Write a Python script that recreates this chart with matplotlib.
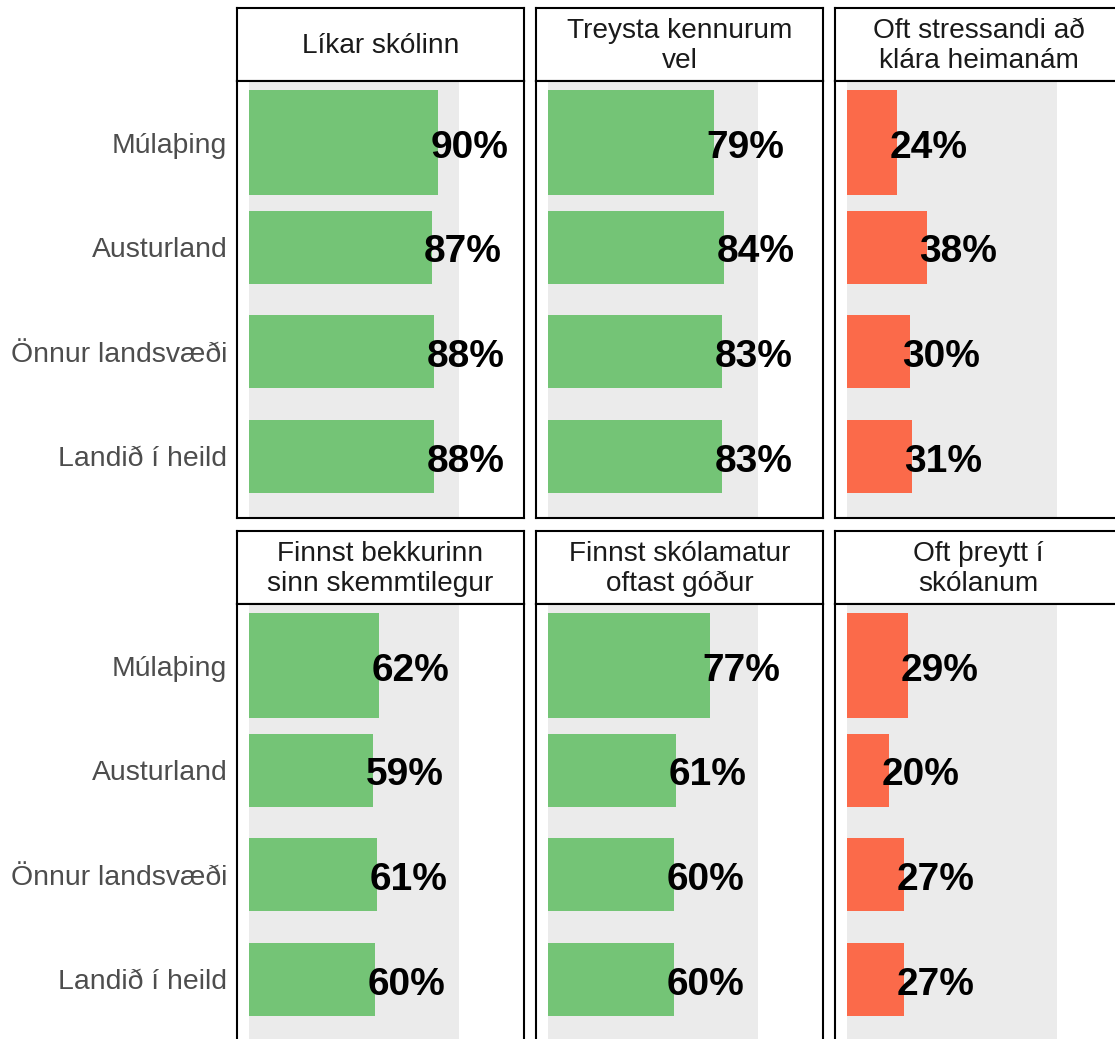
import matplotlib.pyplot as plt

plt.rcParams['font.family'] = ['Liberation Sans', 'DejaVu Sans']

# Gögn
svaedi = ["Múlaþing", "Austurland", "Önnur landsvæði", "Landið í heild"]
titlar = ["Líkar skólinn", "Treysta kennurum\nvel", "Oft stressandi að\nklára heimanám",
          "Finnst bekkurinn\nsinn skemmtilegur", "Finnst skólamatur\noftast góður", "Oft þreytt í\nskólanum"]
likar = [0.90, 0.87, 0.88, 0.88]
treysta = [0.79, 0.84, 0.83, 0.83]
stress = [0.24, 0.38, 0.30, 0.31]
bekkur = [0.62, 0.59, 0.61, 0.60]
matur = [0.77, 0.61, 0.60, 0.60]
threytt = [0.29, 0.20, 0.27, 0.27]
gildi = [likar, treysta, stress, bekkur, matur, threytt]
jakvaett = [True, True, False, True, True, False]

GREEN = "#74C476"
RED = "#FB6A4A"
GREY = "#EBEBEB"

W, H = 1115, 1039
fig = plt.figure(figsize=(W / 100, H / 100), dpi=100)


def box(x0, y0, x1, y1):
    # pixlar -> hlutfall af mynd
    return [x0 / W, 1 - y1 / H, (x1 - x0) / W, (y1 - y0) / H]


cols = [237, 536, 835]
pw = 287
rows = [(8, 81, 518), (531, 604, 1041)]  # strip top, panel top, panel bottom

ypos = [4, 3, 2, 1]
heights = [1.0, 0.7, 0.7, 0.7]

for i in range(6):
    r, c = divmod(i, 3)
    st, pt, pb = rows[r]
    x0 = cols[c]

    # strip
    sax = fig.add_axes(box(x0, st, x0 + pw, pt))
    sax.set_xticks([])
    sax.set_yticks([])
    for s in sax.spines.values():
        s.set_linewidth(1.5)
    sax.text(0.5, 0.48, titlar[i], ha="center", va="center", fontsize=20.2,
             color="#1a1a1a", linespacing=1.2, transform=sax.transAxes)

    ax = fig.add_axes(box(x0, pt, x0 + pw, pb))
    ax.axvspan(0, 1, color=GREY, zorder=0, lw=0)
    litur = GREEN if jakvaett[i] else RED
    ax.barh(ypos, gildi[i], height=heights, color=litur, zorder=1)
    for y, v in zip(ypos, gildi[i]):
        ax.text(v + 0.15, y - 0.05, f"{round(v * 100)}%", ha="center", va="center",
                fontsize=28, fontweight="bold", color="black", zorder=2)
    ax.set_xlim(-0.057, 1.31)
    ax.set_ylim(0.41, 4.59)
    ax.set_xticks([])
    ax.set_yticks(ypos)
    if c == 0:
        ax.set_yticklabels(svaedi, fontsize=20.4, color="#4d4d4d")
    else:
        ax.set_yticklabels([])
    ax.tick_params(axis="y", length=0, pad=7)
    for s in ax.spines.values():
        s.set_linewidth(1.5)

fig.savefig("out.png", dpi=100)
